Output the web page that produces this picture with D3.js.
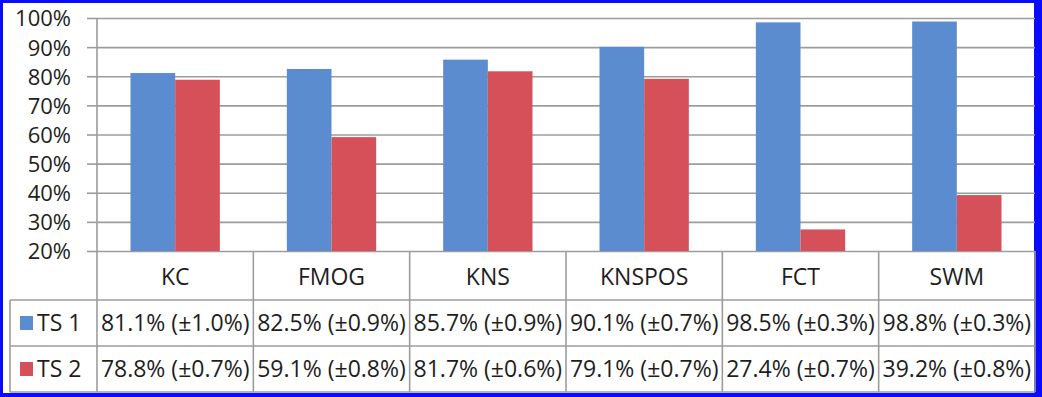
<!DOCTYPE html>
<html><head><meta charset="utf-8">
<script src="https://cdn.jsdelivr.net/npm/d3@7"></script>
<style>
html,body{margin:0;padding:0;background:#fff;}
svg{display:block;}
text{font-family:"Open Sans",sans-serif;fill:#1e1e1e;}
</style></head>
<body>
<svg id="chart" width="1042" height="397"></svg>
<script>
const categories = ["KC","FMOG","KNS","KNSPOS","FCT","SWM"];
const seriesNames = ["TS 1","TS 2"];
const ts1Values = [81.1, 82.5, 85.7, 90.1, 98.5, 98.8];
const ts1Errors = [1.0, 0.9, 0.9, 0.7, 0.3, 0.3];
const ts2Values = [78.8, 59.1, 81.7, 79.1, 27.4, 39.2];
const ts2Errors = [0.7, 0.8, 0.6, 0.7, 0.7, 0.8];
const yTicks = [20, 30, 40, 50, 60, 70, 80, 90, 100];
const colors = ["#5b8cd0", "#d6505a"];

const series = [
  {name: seriesNames[0], values: ts1Values, errors: ts1Errors, color: colors[0]},
  {name: seriesNames[1], values: ts2Values, errors: ts2Errors, color: colors[1]}
];

const svg = d3.select("#chart");
const W = 1042, H = 397;
const plotL = 97, plotR = 1035, plotT = 18, plotB = 251;
const rowLines = [252, 300, 346, 392];
const tableL = 10;
const fs = 23;

// border
svg.append("rect").attr("x",0).attr("y",0).attr("width",W).attr("height",H).attr("fill","#0a0aff");
svg.append("rect").attr("x",3).attr("y",3).attr("width",1031).attr("height",390).attr("fill","#ffffff");

const x = d3.scaleBand().domain(categories).range([plotL, plotR]).paddingInner(0).paddingOuter(0);
const xs = d3.scaleBand().domain(seriesNames).range([0, x.bandwidth()]).paddingInner(0).paddingOuter(0.75);
const y = d3.scaleLinear().domain([20, 100]).range([plotB, plotT]);

const gridColor = "#9c9c9c";

// gridlines
const grid = svg.append("g").attr("transform", `translate(${plotL},0)`)
  .call(d3.axisLeft(y).tickValues(yTicks).tickSize(-(plotR - plotL)).tickFormat(""));
grid.select(".domain").remove();
grid.selectAll("line").attr("stroke", gridColor).attr("stroke-width", 1.6);

// ticks + labels
const yAxis = svg.append("g").attr("transform", `translate(${plotL},0)`)
  .call(d3.axisLeft(y).tickValues(yTicks).tickSize(10).tickSizeOuter(0).tickPadding(16).tickFormat(d => d + "%"));
yAxis.select(".domain").remove();
yAxis.selectAll("line").attr("stroke", gridColor).attr("stroke-width", 1.6);
yAxis.selectAll("text").attr("font-size", 22).attr("font-family", "'Open Sans', sans-serif").attr("fill", "#1e1e1e").attr("dy", "0.36em");

// bars
const groups = svg.append("g").selectAll("g").data(categories).join("g")
  .attr("transform", d => `translate(${x(d)},0)`);
groups.selectAll("rect").data((c, i) => series.map(s => ({s, v: s.values[i]}))).join("rect")
  .attr("x", d => xs(d.s.name))
  .attr("width", xs.bandwidth())
  .attr("y", d => y(d.v))
  .attr("height", d => y(20) - y(d.v))
  .attr("fill", d => d.s.color);

// table lines
const tbl = svg.append("g").attr("stroke", gridColor).attr("stroke-width", 1.6);
tbl.append("line").attr("x1", plotL).attr("x2", plotL).attr("y1", plotT).attr("y2", rowLines[3]);
x.domain().forEach(c => {
  const xx = x(c) + x.bandwidth();
  tbl.append("line").attr("x1", xx).attr("x2", xx).attr("y1", plotB).attr("y2", rowLines[3]);
});
tbl.append("line").attr("x1", tableL).attr("x2", plotR).attr("y1", rowLines[1]).attr("y2", rowLines[1]);
tbl.append("line").attr("x1", tableL).attr("x2", plotR).attr("y1", rowLines[2]).attr("y2", rowLines[2]);
tbl.append("line").attr("x1", tableL).attr("x2", plotR).attr("y1", rowLines[3]).attr("y2", rowLines[3]);
tbl.append("line").attr("x1", tableL).attr("x2", tableL).attr("y1", rowLines[1]).attr("y2", rowLines[3]);

// category labels
svg.append("g").selectAll("text").data(categories).join("text")
  .attr("x", d => x(d) + x.bandwidth() / 2)
  .attr("y", (rowLines[0] + rowLines[1]) / 2 + 1)
  .attr("dy", "0.36em")
  .attr("text-anchor", "middle")
  .attr("font-size", fs)
  .text(d => d);

// table values
series.forEach((s, si) => {
  const cy = (rowLines[si + 1] + rowLines[si + 2]) / 2;
  svg.append("g").selectAll("text").data(categories).join("text")
    .attr("x", d => x(d) + x.bandwidth() / 2)
    .attr("y", cy)
    .attr("dy", "0.36em")
    .attr("text-anchor", "middle")
    .attr("font-size", fs)
    .text((d, i) => `${s.values[i].toFixed(1)}% (±${s.errors[i].toFixed(1)}%)`);
  svg.append("rect").attr("x", 20).attr("y", cy - 7).attr("width", 13).attr("height", 14).attr("fill", s.color);
  svg.append("text").attr("x", 37).attr("y", cy).attr("dy", "0.36em").attr("font-size", fs).text(s.name);
});
</script>
</body></html>
